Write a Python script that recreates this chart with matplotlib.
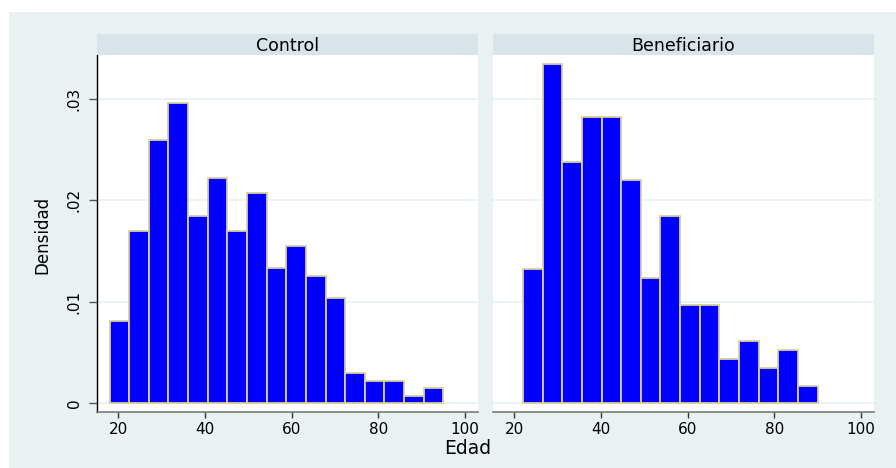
import numpy as np
import matplotlib
matplotlib.use("Agg")
import matplotlib.pyplot as plt
from matplotlib.patches import Rectangle

plt.rcParams["font.family"] = ["DejaVu Sans"]

# Histogram data: age range covered by the bins and bar densities per group
panel_titles = ["Control", "Beneficiario"]
control_range = (18, 95)
control_density = [0.00812, 0.01702, 0.02592, 0.02965, 0.01850, 0.02224, 0.01702,
                   0.02074, 0.01330, 0.01553, 0.01257, 0.01036, 0.00294, 0.00220,
                   0.00220, 0.00072, 0.00145]
benef_range = (22, 90)
benef_density = [0.01318, 0.03350, 0.02380, 0.02820, 0.02820, 0.02202, 0.01230,
                 0.01850, 0.00965, 0.00965, 0.00437, 0.00612, 0.00349, 0.00526,
                 0.00172]
x_ticks = [20, 40, 60, 80, 100]
y_ticks = [0, 0.01, 0.02, 0.03]
y_tick_labels = ["0", ".01", ".02", ".03"]

BG = "#E9F1F3"
STRIP = "#D8E4EA"
GRID = "#E8F0F2"
BAR = "#0000FF"
EDGE = "#DACE9C"

W, H = 896, 468
fig = plt.figure(figsize=(W / 100, H / 100), dpi=100, facecolor="white")
fig.patches.append(Rectangle((9 / W, 0), 1 - 9 / W, (H - 12) / H,
                             transform=fig.transFigure, facecolor=BG,
                             edgecolor="none", zorder=-10))

def fx(px):
    return px / W

def fy(py):
    return 1 - py / H

plot_top, plot_bot = 55, 412
strip_top = 34
panels = [(97, 478), (493, 874)]
data = [(control_range, control_density), (benef_range, benef_density)]

for i, ((x0, x1), (rng, dens), title) in enumerate(zip(panels, data, panel_titles)):
    ax = fig.add_axes([fx(x0), fy(plot_bot), fx(x1 - x0), (plot_bot - plot_top) / H])
    ax.set_facecolor("white")
    edges = np.linspace(rng[0], rng[1], len(dens) + 1)
    ax.bar(edges[:-1], dens, width=np.diff(edges), align="edge",
           color=BAR, edgecolor=EDGE, linewidth=1.3, zorder=3)
    ax.set_xlim(15.1, 103.0)
    ax.set_ylim(-0.00089, 0.03434)
    ax.set_yticks(y_ticks)
    for y in y_ticks:
        ax.axhline(y, color=GRID, linewidth=1.2, zorder=1)
    ax.set_xticks(x_ticks)
    ax.set_xticklabels([str(t) for t in x_ticks], fontsize=11)
    ax.tick_params(axis="x", length=4.5, width=1, color="#333333", pad=3)
    for s in ["top", "right"]:
        ax.spines[s].set_visible(False)
    ax.spines["bottom"].set_color("#7a7a7a")
    ax.spines["bottom"].set_linewidth(1.2)
    if i == 0:
        ax.spines["left"].set_color("black")
        ax.spines["left"].set_linewidth(1.0)
        ax.set_yticklabels(y_tick_labels, rotation=90, va="center", fontsize=11)
        ax.tick_params(axis="y", length=6, width=1, color="#555555", pad=5)
    else:
        ax.spines["left"].set_visible(False)
        ax.tick_params(axis="y", length=0, labelleft=False)

    sax = fig.add_axes([fx(x0), fy(plot_top), fx(x1 - x0), (plot_top - strip_top) / H])
    sax.set_facecolor(STRIP)
    sax.set_xticks([])
    sax.set_yticks([])
    for s in sax.spines.values():
        s.set_visible(False)
    sax.text(0.5, 0.45, title, ha="center", va="center", fontsize=12.5,
             transform=sax.transAxes)

fig.text(fx(468), fy(449), "Edad", ha="center", va="center", fontsize=13.5)
fig.text(fx(42), fy(235), "Densidad", ha="center", va="center", rotation=90,
         fontsize=12)

fig.savefig("out.png", dpi=100, facecolor="white")
